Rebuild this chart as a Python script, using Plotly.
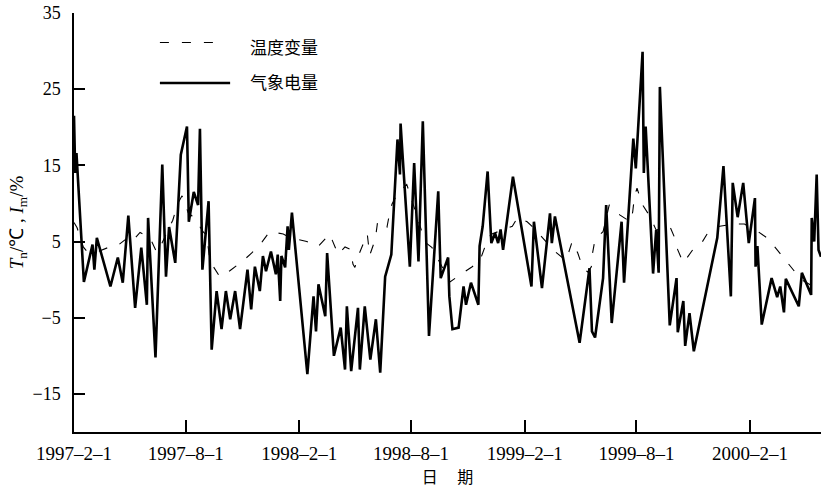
import pandas as pd
import plotly.graph_objects as go

# Observation offsets (days after 1997-02-01) and values
start = pd.Timestamp("1997-02-01")

elec_days = [0, 2, 4, 16, 30, 33, 37, 59, 71, 79, 88, 99, 109, 118, 120, 132, 143, 149, 154, 164,
             173, 183, 186, 194, 201, 204, 208, 218, 223, 231, 239, 246, 253, 261, 269, 281, 287,
             293, 301, 306, 311, 319, 327, 330, 334, 336, 342, 346, 348, 353, 378, 388, 392, 396,
             407, 410, 421, 432, 439, 442, 449, 460, 463, 471, 480, 489, 496, 504, 514, 524, 528,
             529, 532, 544, 551, 558, 565, 575, 590, 594, 606, 608, 613, 623, 631, 635, 643, 655,
             657, 662, 670, 676, 682, 687, 691, 695, 711, 741, 745, 758, 771, 774, 779, 819, 835,
             839, 844, 857, 862, 871, 887, 891, 906, 910, 921, 923, 926, 938, 943, 947, 949, 965,
             976, 978, 987, 990, 997, 1004, 1042, 1052, 1064, 1067, 1075, 1084, 1093, 1103, 1104,
             1107, 1114, 1130, 1139, 1144, 1150, 1153, 1174, 1179, 1194, 1195, 1199, 1203, 1206,
             1210]
elec_vals = [21.5, 14.0, 16.6, -0.3, 4.6, 1.3, 5.5, -0.9, 2.9, -0.4, 8.4, -3.7, 4.2, -3.3, 8.1,
             -10.2, 15.1, 0.4, 6.9, 2.2, 16.4, 20.1, 7.6, 11.5, 9.8, 19.8, 1.3, 10.3, -9.2, -1.5,
             -6.5, -1.5, -5.2, -1.5, -6.5, 1.3, -3.9, 1.7, -1.5, 3.1, 1.1, 3.7, 0.7, 3.3, -2.8, 3.1,
             1.6, 7.0, 3.9, 8.8, -12.4, -2.2, -6.8, -0.6, -4.8, 3.5, -10.0, -6.3, -11.8, -3.5,
             -12.0, -3.7, -11.8, -3.5, -10.5, -5.2, -12.2, 0.4, 3.3, 18.4, 13.8, 20.5, 16.6, 1.7,
             15.3, 2.4, 20.8, -7.4, 11.6, 0.2, 2.9, -2.2, -6.5, -6.3, -0.9, -3.3, -0.4, -3.3, 4.4,
             7.0, 14.2, 4.8, 6.1, 4.8, 6.6, 3.9, 13.5, -0.9, 7.6, -1.1, 8.7, 4.8, 8.3, -8.3, 1.5,
             -6.8, -7.6, 0.2, 9.8, -5.7, 7.6, -0.4, 18.5, 14.6, 29.9, 14.0, 20.1, 0.8, 6.5, 0.9,
             25.3, -6.0, 0.2, -6.9, -2.8, -8.7, -4.4, -9.4, 5.5, 14.9, -2.2, 12.7, 8.2, 12.7, 4.8,
             10.7, 1.7, 4.4, -5.9, 0.2, -2.3, -0.9, -4.3, 0.1, -3.5, 0.9, -2.0, 8.1, 5.0, 13.8,
             3.9, 3.0]

temp_days = [0, 5, 15, 21, 39, 58, 71, 87, 94, 107, 123, 134, 139, 147, 155, 160, 168, 175, 185,
             196, 209, 215, 220, 225, 236, 253, 274, 288, 305, 317, 339, 350, 377, 395, 414, 419,
             428, 439, 447, 452, 455, 460, 468, 475, 479, 488, 492, 507, 510, 515, 525, 539, 547,
             569, 580, 609, 625, 645, 658, 671, 677, 710, 719, 734, 742, 771, 779, 797, 807, 816,
             824, 832, 838, 840, 844, 857, 867, 884, 901, 905, 908, 912, 921, 933, 943, 965, 973,
             978, 987, 1003, 1018, 1030, 1046, 1067, 1086, 1108, 1124, 1139, 1152, 1167, 1178, 1210]
temp_vals = [7.5, 6.8, 4.3, 3.7, 3.7, 4.3, 4.5, 5.5, 5.0, 6.2, 5.5, 3.6, 4.2, 5.5, 6.9, 7.8, 10.0,
             11.0, 8.8, 8.0, 6.3, 5.8, 2.6, 1.8, 0.4, 1.2, 2.5, 3.5, 5.0, 6.3, 6.0, 5.5, 5.0, 4.3,
             6.0, 5.0, 3.3, 4.3, 4.0, 2.0, 1.6, 3.0, 4.5, 6.0, 3.2, 5.3, 7.7, 6.9, 8.2, 9.9, 11.4,
             12.5, 10.5, 4.9, 4.2, -0.3, 0.6, 1.7, 2.6, 5.5, 6.0, 7.0, 8.2, 7.6, 7.0, 4.3, 3.7, 2.5,
             5.0, 3.5, 1.6, 1.0, 1.7, 3.5, 5.3, 6.3, 9.8, 8.5, 7.6, 8.9, 11.0, 12.0, 9.8, 8.3, 6.5,
             7.0, 5.5, 3.9, 2.2, 4.0, 5.0, 6.6, 7.0, 7.3, 7.3, 6.3, 5.4, 3.9, 2.6, 1.0, 0.0, -1.5]

tick_dates = ["1997-02-01", "1997-08-01", "1998-02-01", "1998-08-01",
              "1999-02-01", "1999-08-01", "2000-02-01"]
tick_text = ["1997–2–1", "1997–8–1", "1998–2–1", "1998–8–1",
             "1999–2–1", "1999–8–1", "2000–2–1"]
y_ticks = [-15, -5, 5, 15, 25, 35]

elec_x = start + pd.to_timedelta(elec_days, unit="D")
temp_x = start + pd.to_timedelta(temp_days, unit="D")
x_end = start + pd.to_timedelta(1210, unit="D")

serif = "Liberation Serif, Times New Roman, serif"
cjk = "Noto Sans CJK SC, sans-serif"

fig = go.Figure()
fig.add_trace(go.Scatter(x=temp_x, y=temp_vals, mode="lines", name="温度变量",
                         line=dict(color="black", width=1.1, dash="9px,13px")))
fig.add_trace(go.Scatter(x=elec_x, y=elec_vals, mode="lines", name="气象电量",
                         line=dict(color="black", width=2.6)))

# hand-drawn legend block in the upper-left corner
fig.add_shape(type="line", xref="paper", yref="paper", x0=0.115, x1=0.195, y0=0.9296, y1=0.9296,
              line=dict(color="black", width=1.1, dash="9px,13px"))
fig.add_shape(type="line", xref="paper", yref="paper", x0=0.115, x1=0.209, y0=0.833, y1=0.833,
              line=dict(color="black", width=2.6))
fig.add_annotation(xref="paper", yref="paper", x=0.2336, y=0.919, text="温度变量",
                   showarrow=False, xanchor="left", yanchor="middle",
                   font=dict(family=cjk, size=17, color="black"))
fig.add_annotation(xref="paper", yref="paper", x=0.2336, y=0.836, text="气象电量",
                   showarrow=False, xanchor="left", yanchor="middle",
                   font=dict(family=cjk, size=17, color="black"))

fig.update_layout(
    width=821, height=490,
    margin=dict(l=74, r=0, t=13, b=58),
    paper_bgcolor="white", plot_bgcolor="white",
    showlegend=False,
    xaxis=dict(
        type="date", range=[start, x_end],
        tickmode="array", tickvals=tick_dates, ticktext=tick_text,
        ticks="inside", ticklen=12, tickwidth=1.5, tickcolor="black",
        showline=True, linecolor="black", linewidth=1.5,
        showgrid=False, zeroline=False,
        ticklabelstandoff=3,
        tickfont=dict(family=serif, size=19, color="black"),
        title=dict(text="日　 期", font=dict(family=cjk, size=16, color="black"), standoff=6),
    ),
    yaxis=dict(
        range=[-20, 35],
        tickmode="array", tickvals=y_ticks,
        ticks="inside", ticklen=11, tickwidth=1.5, tickcolor="black",
        showline=True, linecolor="black", linewidth=1.5,
        showgrid=False, zeroline=False,
        ticklabelstandoff=8,
        tickfont=dict(family=serif, size=18, color="black"),
        title=dict(text="<i>T</i><sub>n</sub>/℃ , <i>I</i><sub>m</sub>/%",
                   font=dict(family=serif, size=19, color="black"), standoff=4),
    ),
)

fig.write_html("out.html")
